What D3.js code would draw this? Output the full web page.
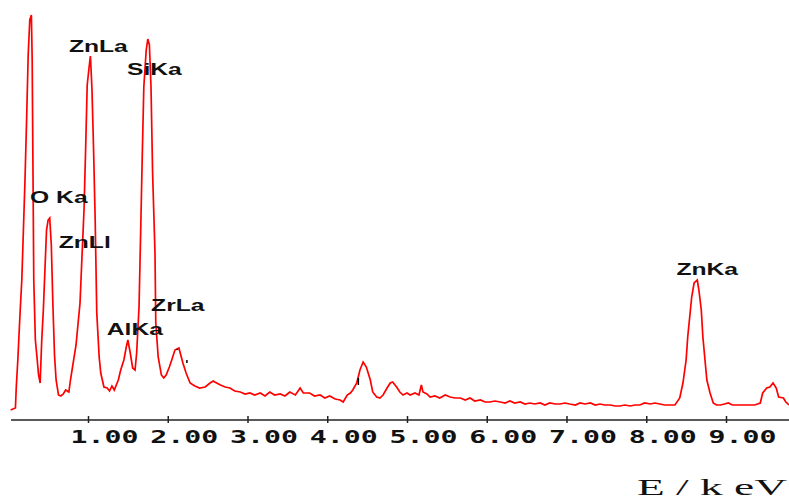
<!DOCTYPE html>
<html>
<head>
<meta charset="utf-8">
<script src="https://cdnjs.cloudflare.com/ajax/libs/d3/7.8.5/d3.min.js"></script>
<style>
  html, body { margin: 0; padding: 0; background: #fff; }
  svg { display: block; }
</style>
</head>
<body>
<script>
// EDS spectrum, energy in keV and counts
var energy = [0.03, 0.09, 0.10, 0.12, 0.15, 0.17, 0.19, 0.21, 0.23, 0.25, 0.27, 0.29, 0.30, 0.31, 0.32, 0.34, 0.36, 0.38, 0.40,
  0.42, 0.44, 0.46, 0.48, 0.50, 0.52, 0.54, 0.56, 0.58, 0.60, 0.63, 0.66, 0.69, 0.72, 0.76, 0.78, 0.81, 0.85, 0.87, 0.90,
  0.92, 0.95, 0.97, 0.99, 1.01, 1.03, 1.04, 1.05, 1.07, 1.09, 1.11, 1.14, 1.16, 1.20, 1.24, 1.27, 1.30, 1.33, 1.36, 1.38,
  1.41, 1.45, 1.48, 1.50, 1.53, 1.56, 1.59, 1.61, 1.64, 1.66, 1.68, 1.70, 1.73, 1.75, 1.77, 1.79, 1.81, 1.84, 1.85, 1.88,
  1.92, 1.95, 1.98, 2.02, 2.05, 2.09, 2.14, 2.19, 2.23, 2.28, 2.34, 2.40, 2.47, 2.53, 2.57, 2.59, 2.66, 2.72, 2.78, 2.84,
  2.91, 2.97, 3.03, 3.09, 3.16, 3.22, 3.28, 3.34, 3.41, 3.47, 3.53, 3.60, 3.66, 3.70, 3.78, 3.84, 3.91, 3.97, 4.03, 4.10,
  4.16, 4.20, 4.25, 4.29, 4.32, 4.37, 4.41, 4.45, 4.49, 4.54, 4.57, 4.62, 4.66, 4.70, 4.75, 4.79, 4.82, 4.87, 4.91, 4.95,
  5.00, 5.04, 5.10, 5.15, 5.18, 5.20, 5.25, 5.29, 5.35, 5.41, 5.48, 5.54, 5.60, 5.67, 5.73, 5.79, 5.85, 5.92, 5.98, 6.04,
  6.10, 6.17, 6.23, 6.29, 6.35, 6.42, 6.48, 6.54, 6.60, 6.67, 6.73, 6.79, 6.86, 6.92, 6.98, 7.04, 7.11, 7.17, 7.23, 7.30,
  7.36, 7.42, 7.48, 7.55, 7.61, 7.67, 7.73, 7.80, 7.86, 7.92, 7.98, 8.05, 8.11, 8.17, 8.23, 8.30, 8.36, 8.42, 8.46, 8.50,
  8.52, 8.55, 8.57, 8.60, 8.64, 8.66, 8.69, 8.71, 8.74, 8.76, 8.80, 8.84, 8.88, 8.93, 8.98, 9.03, 9.08, 9.11, 9.18, 9.24,
  9.30, 9.36, 9.43, 9.46, 9.51, 9.55, 9.59, 9.63, 9.66, 9.72, 9.75, 9.79];

var counts = [10, 12, 32, 60, 110, 140, 190, 240, 300, 365, 400, 405, 360, 250, 140, 80, 63, 45, 37,
  80, 110, 150, 190, 200, 202, 175, 115, 65, 40, 25, 24, 26, 30, 28, 40, 55, 75, 92, 117,
  155, 210, 270, 335, 350, 364, 348, 330, 270, 200, 107, 63, 47, 33, 32, 29, 34, 30, 36, 40,
  50, 60, 73, 80, 67, 52, 50, 67, 113, 187, 263, 333, 370, 381, 375, 333, 247, 167, 97, 63,
  45, 42, 45, 53, 60, 70, 72, 57, 47, 37, 34, 32, 33, 37, 39, 38, 35, 33, 32, 29,
  28, 26, 27, 25, 27, 24, 28, 25, 26, 24, 28, 25, 32, 27, 27, 24, 25, 22, 24, 21,
  20, 18, 25, 27, 30, 37, 50, 58, 53, 40, 28, 23, 22, 25, 32, 37, 38, 33, 28, 25,
  27, 25, 27, 25, 35, 28, 26, 23, 24, 22, 25, 23, 22, 22, 20, 22, 19, 20, 18, 18,
  19, 18, 17, 19, 17, 18, 16, 17, 16, 17, 15, 17, 16, 16, 17, 16, 15, 17, 16, 17,
  15, 16, 15, 15, 14, 14, 15, 14, 15, 15, 17, 16, 17, 16, 15, 15, 15, 22, 37, 60,
  83, 107, 123, 137, 140, 130, 110, 83, 57, 40, 27, 17, 15, 15, 16, 17, 15, 15, 15, 15,
  15, 15, 17, 27, 32, 33, 37, 32, 23, 22, 18, 15];

// peak identification labels
var peakNames = ['O Ka', 'ZnLa', 'ZnLl', 'AlKa', 'SiKa', 'ZrLa', 'ZnKa'];
var peakEnergy = [0.525, 1.012, 0.884, 1.486, 1.740, 2.042, 8.630];
var peakLabelLevel = [217, 368, 172, 85, 345, 109, 145];

// small KLM marker ticks
var markerEnergy = [2.12, 2.24, 4.39];
var markerLevel = [[70, 71], [57, 60], [35, 42]];

var tickValues = [1, 2, 3, 4, 5, 6, 7, 8, 9];

var width = 789, height = 500;

var svg = d3.select('body').append('svg')
  .attr('width', width)
  .attr('height', height);

var x = d3.scaleLinear().domain([0, 10]).range([8.25, 805.75]);
var y = d3.scaleLinear().domain([0, 420]).range([420, 0]);

var spectrum = energy.map(function(e, i) { return { e: e, c: counts[i] }; });

// axis line
svg.append('line')
  .attr('x1', x(0.035))
  .attr('x2', width)
  .attr('y1', y(0))
  .attr('y2', y(0))
  .style('stroke', '#222')
  .style('stroke-width', 1.5);

var axis = d3.axisBottom(x)
  .tickValues(tickValues)
  .tickSize(0)
  .tickFormat(d3.format('.2f'));

var gAxis = svg.append('g')
  .attr('transform', 'translate(0,' + y(0) + ')')
  .call(axis);

gAxis.select('.domain').remove();

gAxis.selectAll('.tick line')
  .attr('y1', -4)
  .attr('y2', 3)
  .style('stroke', '#222')
  .style('stroke-width', 1.5);

gAxis.selectAll('.tick text')
  .attr('x', -18)
  .attr('y', 23)
  .attr('dy', 0)
  .attr('text-anchor', 'start')
  .attr('textLength', 68)
  .attr('lengthAdjust', 'spacingAndGlyphs')
  .style('font-family', 'DejaVu Sans Mono')
  .style('font-weight', 'bold')
  .style('font-size', '18px')
  .style('fill', '#111');

// spectrum
var line = d3.line()
  .x(function(d) { return x(d.e); })
  .y(function(d) { return y(d.c); });

svg.append('path')
  .datum(spectrum)
  .attr('d', line)
  .style('fill', 'none')
  .style('stroke', '#ff0000')
  .style('stroke-width', 1.7)
  .style('stroke-linejoin', 'miter');

// markers
svg.selectAll('.marker')
  .data(markerEnergy)
  .enter().append('line')
  .attr('class', 'marker')
  .attr('x1', function(d) { return x(d); })
  .attr('x2', function(d, i) { return x(d) + (markerLevel[i][0] === markerLevel[i][1] ? 3 : 0); })
  .attr('y1', function(d, i) { return y(markerLevel[i][0]); })
  .attr('y2', function(d, i) { return y(markerLevel[i][1]); })
  .style('stroke', '#000')
  .style('stroke-width', 1.5);

// peak labels
svg.selectAll('.peak')
  .data(peakNames)
  .enter().append('text')
  .attr('class', 'peak')
  .attr('transform', function(d, i) {
    return 'translate(' + (x(peakEnergy[i]) - 20) + ',' + y(peakLabelLevel[i]) + ') scale(1.45,1)';
  })
  .style('font-family', 'Liberation Sans')
  .style('font-weight', 'bold')
  .style('font-size', '17px')
  .style('fill', '#111')
  .text(function(d) { return d; });

// axis title
svg.append('text')
  .attr('x', 637)
  .attr('y', 495)
  .attr('textLength', 150)
  .attr('lengthAdjust', 'spacingAndGlyphs')
  .style('font-family', 'Liberation Serif')
  .style('font-size', '23px')
  .style('fill', '#111')
  .text('E / k eV');
</script>
</body>
</html>
